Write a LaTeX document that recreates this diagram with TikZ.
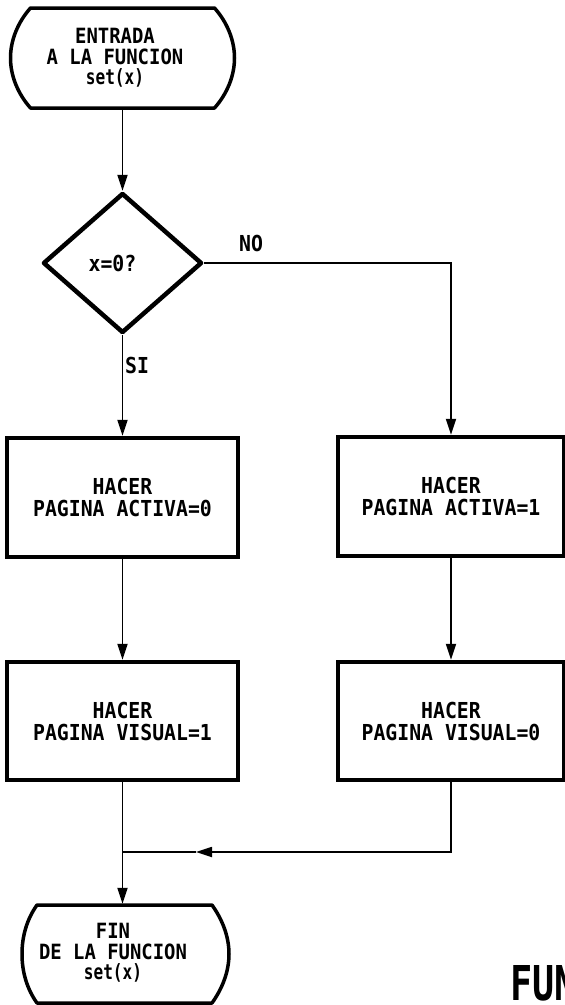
\documentclass[tikz,border=0pt]{standalone}
\usepackage{fontspec}
\setmonofont[FakeStretch=0.9]{DejaVu Sans Mono}
\usepackage{graphicx}
\usetikzlibrary{shapes.geometric,arrows.meta}
\begin{document}
\begin{tikzpicture}[x=1pt,y=-1pt,
  txt/.style={font=\fontsize{22}{22}\selectfont\ttfamily\bfseries, align=center, inner sep=0pt},
  termtxt/.style={font=\fontsize{21}{20.5}\selectfont\ttfamily\bfseries, align=center, inner sep=0pt},
  procbox/.style={draw, line width=4.5pt, minimum width=231pt, minimum height=119pt, inner sep=0pt, txt},
  decbox/.style={draw, diamond, line width=4.5pt, line join=round, minimum width=159pt, minimum height=140pt, inner sep=0pt, txt},
  outline/.style={line width=3.5pt, line join=round},
  conn/.style={line width=1.8pt},
  tip/.style={-{Triangle[length=16pt,width=10pt]}}
]
\useasboundingbox (0,0) rectangle (565,1005);

% start terminal
\node[termtxt, minimum height=100pt] (start) at (115,58) {ENTRADA\\A LA FUNCION\\\scalebox{0.85}[1]{set(x)}};
\draw[outline] (30.5,8) -- (214.5,8) .. controls (227,22) and (234.5,40) .. (234.5,58)
  .. controls (234.5,76) and (227,94) .. (214.5,108) -- (30.5,108)
  .. controls (18,94) and (10.5,76) .. (10.5,58) .. controls (10.5,40) and (18,22) .. cycle;

% decision
\node[decbox] (dec) at (122.5,263) {x=0?\hspace*{20pt}};

% process boxes
\node[procbox] (b1) at (122.5,497.5) {HACER\\PAGINA ACTIVA=0};
\node[procbox, minimum width=226pt] (b2) at (451,496.5) {HACER\\PAGINA ACTIVA=1};
\node[procbox, minimum height=118pt] (b3) at (122.5,721) {HACER\\PAGINA VISUAL=1};
\node[procbox, minimum width=226pt, minimum height=118pt] (b4) at (451,721) {HACER\\PAGINA VISUAL=0};

% end terminal
\node[termtxt, minimum height=98pt] (end) at (113,953) {FIN\\DE LA FUNCION\\\scalebox{0.85}[1]{set(x)}};
\draw[outline] (37,905) -- (212,905) .. controls (222,919) and (229,936) .. (229,954)
  .. controls (229,972) and (222,989) .. (212,1003) -- (37,1003)
  .. controls (27,989) and (22,972) .. (22,954) .. controls (22,936) and (27,919) .. cycle;

% labels
\node[txt] (no) at (251,243) {NO};
\node[txt] (si) at (137,365) {SI};
\node[anchor=base west, inner sep=0pt] (fun) at (510,1000)
  {\scalebox{0.85}[1]{\fontsize{48}{48}\selectfont\ttfamily\bfseries FUN}};

% connectors
\coordinate (merge) at (122.5,852);
\coordinate (ah) at (196,852);
\draw[conn,tip] (start.south -| dec.north) -- (dec.north);
\draw[conn,tip] (dec.south) -- (b1.north);
\draw[conn,tip] (dec.east) -| (b2.north);
\draw[conn,tip] (b1.south) -- (b3.north);
\draw[conn,tip] (b2.south) -- (b4.north);
\draw[conn,tip] (b4.south) |- (ah);
\draw[conn] (ah) -- (merge);
\draw[conn,tip] (b3.south) -- (b3.south |- end.north);
\end{tikzpicture}
\end{document}
